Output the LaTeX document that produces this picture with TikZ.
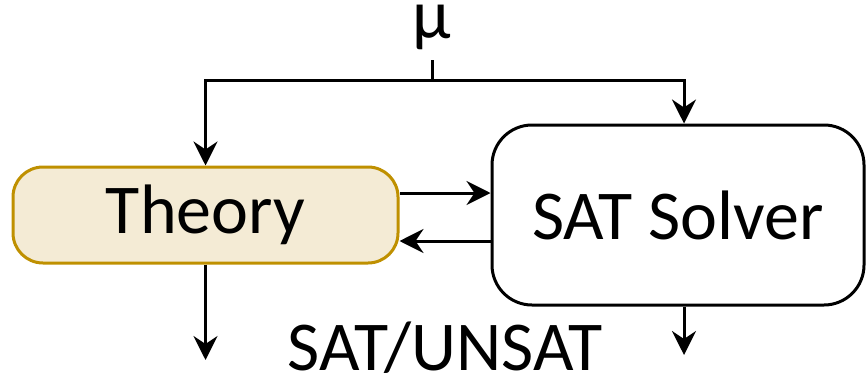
\documentclass[tikz,border=0pt]{standalone}
\usepackage{fontspec}
\setmainfont{Carlito}
\usetikzlibrary{positioning,arrows.meta,calc}
\definecolor{theoryfill}{HTML}{F4EBD5}
\definecolor{theoryline}{HTML}{BF9000}

\begin{document}
\begin{tikzpicture}[
  x=0.5pt, y=0.5pt,
  block/.style={draw, rectangle, line width=1.5pt, align=center, font=\fontsize{35}{40}\selectfont, inner sep=0pt},
  theoryB/.style={block, rounded corners=15pt, minimum width=192.5pt, minimum height=48pt, fill=theoryfill, draw=theoryline},
  solverB/.style={block, rounded corners=20pt, minimum width=186pt, minimum height=90pt, fill=white},
  lbl/.style={font=\fontsize{35}{40}\selectfont, inner sep=0pt},
  arrow/.style={-{Stealth[length=12pt, width=12pt, inset=4pt]}, line width=1.5pt},
  wire/.style={line width=1.5pt}
]
\useasboundingbox (0,0) rectangle (866,376);

% ================= BLOCKS =================
\node[theoryB] (theory) at (205.5,161) {Theory};
\node[solverB] (sat) at (678,161) {SAT Solver};

% ================= LABELS =================
\node[lbl, anchor=base] (mu) at (432,338) {µ};
\node[lbl, anchor=base] (result) at (445,6) {SAT/UNSAT};

% free ends and bus taps
\coordinate (tap) at (432,296);
\coordinate (satin) at (684,296);
\coordinate (out1) at (205.5,16);
\coordinate (out2) at (684,21);

% ================== ARROWS ==================
% mu bus feeding both blocks
\draw[wire] (tap) -- ++(0,20);
\draw[arrow] (tap) -| (theory.north);
\draw[arrow] (tap) -| (sat.north -| satin);

% Theory <-> SAT Solver
\draw[arrow] ($(theory.east)+(0,22)$) -- ($(sat.west)+(0,22)$);
\draw[arrow] ($(sat.west)+(0,-26)$) -- ($(theory.east)+(0,-26)$);

% outputs
\draw[arrow] (theory.south) -- (out1);
\draw[arrow] (sat.south -| out2) -- (out2);

\end{tikzpicture}
\end{document}
